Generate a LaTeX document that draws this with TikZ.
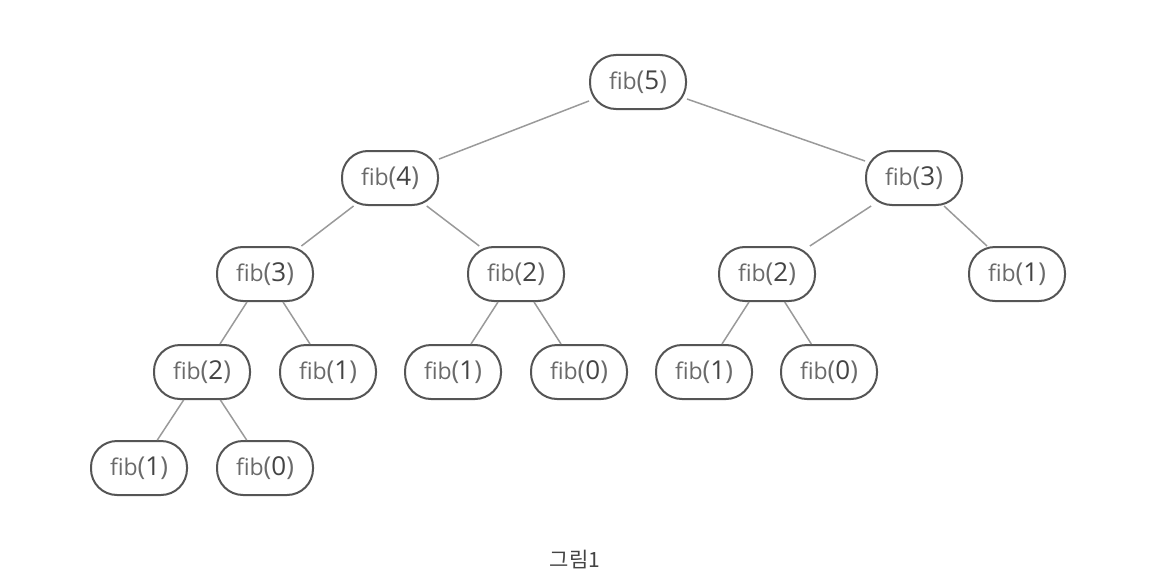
\documentclass[tikz,border=0pt]{standalone}
\usepackage{fontspec}
\setmainfont{Open Sans}
\newfontfamily\cjk{Noto Sans CJK KR}
\definecolor{boxline}{HTML}{555555}
\definecolor{edgeline}{HTML}{9A9A9A}
\definecolor{fibtext}{HTML}{6A6A6A}
\definecolor{numtext}{HTML}{444444}
\tikzset{
  fibnode/.style={draw=boxline, line width=2pt, fill=white, rounded corners=26pt,
    minimum width=96pt, minimum height=54pt, inner sep=0pt,
    font=\fontsize{23}{27}\selectfont, text=fibtext},
}
\newcommand{\fib}[1]{fib{\fontsize{26}{27}\selectfont(\textcolor{numtext}{#1})}}
\begin{document}
\begin{tikzpicture}[x=1pt,y=-1pt]
      \useasboundingbox (0,0) rectangle (1170,586);
      \draw
        (638,82) node[fibnode] (f5){\fib{5}}
        (390,178) node[fibnode] (f4){\fib{4}}
        (914,178) node[fibnode] (f3b){\fib{3}}
        (265,274) node[fibnode] (f3a){\fib{3}}
        (516,274) node[fibnode] (f2b){\fib{2}}
        (767,274) node[fibnode] (f2c){\fib{2}}
        (1017,274) node[fibnode] (f1d){\fib{1}}
        (202,372) node[fibnode] (f2a){\fib{2}}
        (328,372) node[fibnode] (f1b){\fib{1}}
        (453,372) node[fibnode] (f1c){\fib{1}}
        (579,372) node[fibnode] (f0b){\fib{0}}
        (704,372) node[fibnode] (f1e){\fib{1}}
        (829,372) node[fibnode] (f0c){\fib{0}}
        (139,468) node[fibnode] (f1a){\fib{1}}
        (265,468) node[fibnode] (f0a){\fib{0}};
      \begin{scope}[-, draw=edgeline, line width=1.5pt]
        \draw (f5) to (f4);
        \draw (f5) to (f3b);
        \draw (f4) to (f3a);
        \draw (f4) to (f2b);
        \draw (f3b) to (f2c);
        \draw (f3b) to (f1d);
        \draw (f3a) to (f2a);
        \draw (f3a) to (f1b);
        \draw (f2b) to (f1c);
        \draw (f2b) to (f0b);
        \draw (f2c) to (f1e);
        \draw (f2c) to (f0c);
        \draw (f2a) to (f1a);
        \draw (f2a) to (f0a);
      \end{scope}
      \node[font=\cjk\fontsize{21}{24}\selectfont, text=numtext] (caption) at (575,560) {그림1};
    \end{tikzpicture}
\end{document}
